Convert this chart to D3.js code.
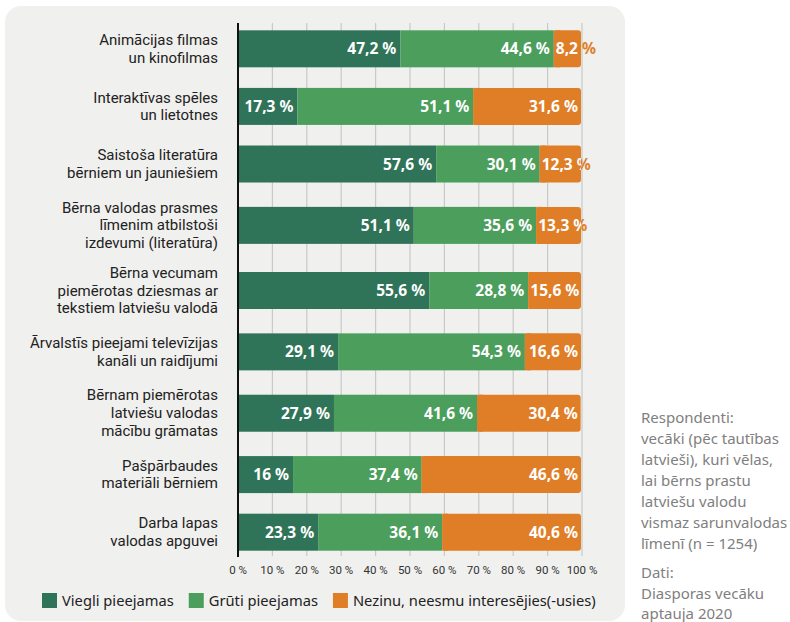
<!DOCTYPE html>
<html><head><meta charset="utf-8">
<script src="https://cdn.jsdelivr.net/npm/d3@7"></script>
<style>
body{margin:0;background:#fff;}
svg{display:block;}
</style></head><body>
<svg id="chart" width="790" height="622"></svg>
<script>
const categories = [
  ["Animācijas filmas","un kinofilmas"],
  ["Interaktīvas spēles","un lietotnes"],
  ["Saistoša literatūra","bērniem un jauniešiem"],
  ["Bērna valodas prasmes","līmenim atbilstoši","izdevumi (literatūra)"],
  ["Bērna vecumam","piemērotas dziesmas ar","tekstiem latviešu valodā"],
  ["Ārvalstīs pieejami televīzijas","kanāli un raidījumi"],
  ["Bērnam piemērotas","latviešu valodas","mācību grāmatas"],
  ["Pašpārbaudes","materiāli bērniem"],
  ["Darba lapas","valodas apguvei"]
];
const viegli = [47.2, 17.3, 57.6, 51.1, 55.6, 29.1, 27.9, 16, 23.3];
const gruti  = [44.6, 51.1, 30.1, 35.6, 28.8, 54.3, 41.6, 37.4, 36.1];
const nezinu = [8.2, 31.6, 12.3, 13.3, 15.6, 16.6, 30.4, 46.6, 40.6];
const seriesNames = ["Viegli pieejamas","Grūti pieejamas","Nezinu, neesmu interesējies(-usies)"];
const ticks = [0,10,20,30,40,50,60,70,80,90,100];
const noteLines = ["Respondenti:","vecāki (pēc tautības","latvieši), kuri vēlas,","lai bērns prastu","latviešu valodu","vismaz sarunvalodas","līmenī (n = 1254)"];
const sourceLines = ["Dati:","Diasporas vecāku","aptauja 2020"];

const colors = ["#2f7459","#4b9e5c","#e07e27"];
const font = "'Noto Sans', sans-serif";
const labelFont = "Roboto, 'Noto Sans', sans-serif";
const svg = d3.select("#chart");

// panel
svg.append("rect").attr("x",5).attr("y",6).attr("width",620).attr("height",615)
  .attr("rx",16).attr("fill","#f0f0ee");

const x = d3.scaleLinear().domain([0,100]).range([238,582]);

// row layout: height depends on number of label lines
const weights = categories.map(c => 17 + 3*c.length);
const cum = [0]; weights.forEach(w => cum.push(cum[cum.length-1]+w));
const yu = d3.scaleLinear().domain([0, cum[cum.length-1]]).range([20,561]);
const rowCenter = i => yu(cum[i] + weights[i]/2);
const barH = 37;

// gridlines
svg.append("g").selectAll("line").data(ticks.slice(1)).join("line")
  .attr("x1",d=>x(d)).attr("x2",d=>x(d)).attr("y1",23).attr("y2",556)
  .attr("stroke","#c9c9c7").attr("stroke-width",1.2);

// tick labels
svg.append("g").selectAll("text").data(ticks).join("text")
  .attr("x",d=>x(d)).attr("y",574).attr("text-anchor","middle")
  .attr("font-family","'Liberation Sans Narrow','Roboto',sans-serif").attr("font-size",11.5)
  .attr("fill","#333").text(d=>d+" %");

const stackData = categories.map((c,i)=>({i, v:[viegli[i],gruti[i],nezinu[i]]}));
const defs = svg.append("defs");
const vfs = 15.5;

stackData.forEach(row => {
  const cy = rowCenter(row.i);
  const y0 = cy - barH/2;
  let acc = 0;
  const segs = row.v.map((v,k)=>{ const s={k,v,start:acc,end:acc+v}; acc+=v; return s; });
  const g = svg.append("g");
  segs.forEach(s => {
    const last = s.k === segs.length-1;
    if (last) {
      g.append("rect").attr("x",x(s.start)).attr("y",y0)
        .attr("width",x(s.end)-x(s.start)-1).attr("height",barH).attr("rx",3).attr("fill",colors[s.k]);
      g.append("rect").attr("x",x(s.start)).attr("y",y0)
        .attr("width",Math.min(6,x(s.end)-x(s.start))).attr("height",barH).attr("fill",colors[s.k]);
    } else {
      g.append("rect").attr("x",x(s.start)).attr("y",y0)
        .attr("width",x(s.end)-x(s.start)).attr("height",barH).attr("fill",colors[s.k]);
    }
  });
  // labels
  segs.forEach(s => {
    const label = String(s.v).replace(".",",") + " %";
    const segW = x(s.end)-x(s.start);
    const t = g.append("text").attr("font-family",font).attr("font-weight","bold")
      .attr("font-size",vfs).attr("y",cy+5.5).text(label);
    const tw = t.node().getComputedTextLength();
    if (tw + 6 <= segW) {
      t.attr("x",x(s.end)-4).attr("text-anchor","end").attr("fill","#fff");
    } else {
      const tx = x(s.start)+2;
      t.attr("x",tx).attr("fill",colors[s.k]);
      const id = "clip"+row.i+"_"+s.k;
      defs.append("clipPath").attr("id",id).append("rect")
        .attr("x",x(s.start)).attr("y",y0).attr("width",segW-1).attr("height",barH);
      g.append("text").attr("font-family",font).attr("font-weight","bold")
        .attr("font-size",vfs).attr("y",cy+5.5).attr("x",tx).attr("fill","#fff")
        .attr("clip-path","url(#"+id+")").text(label);
    }
  });
  // category label
  const lines = categories[row.i];
  const lh = 17.8;
  lines.forEach((ln,j)=>{
    svg.append("text").attr("font-family",labelFont).attr("font-size",15)
      .attr("fill","#222").attr("text-anchor","end").attr("x",218)
      .attr("y", cy - (lines.length-1)*lh/2 + j*lh + 5).text(ln);
  });
});

// axis line
svg.append("line").attr("x1",x(0)).attr("x2",x(0)).attr("y1",23).attr("y2",557)
  .attr("stroke","#111").attr("stroke-width",2);

// legend
let lx = 42;
const lg = svg.append("g");
seriesNames.forEach((n,k)=>{
  lg.append("rect").attr("x",lx).attr("y",593).attr("width",15).attr("height",15).attr("fill",colors[k]);
  const t = lg.append("text").attr("x",lx+20).attr("y",606).attr("font-family",font)
    .attr("font-size",14.7).attr("fill","#222").text(n);
  lx = lx + 20 + t.node().getComputedTextLength() + 15;
});

// notes
const nt = svg.append("text").attr("font-family",font).attr("font-size",15).attr("fill","#808080");
noteLines.forEach((l,j)=> nt.append("tspan").attr("x",641).attr("y",423+j*21).text(l));
const st = svg.append("text").attr("font-family",font).attr("font-size",15).attr("fill","#808080");
sourceLines.forEach((l,j)=> st.append("tspan").attr("x",641).attr("y",578+j*20.5).text(l));
</script>
</body></html>
